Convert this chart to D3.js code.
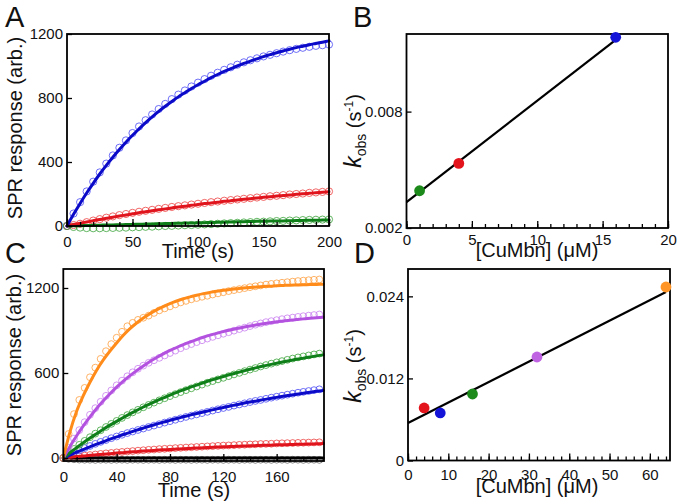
<!DOCTYPE html>
<html><head><meta charset="utf-8">
<script src="https://cdn.jsdelivr.net/npm/d3@7"></script>
<style>body{margin:0;background:#fff} svg{display:block} text{font-family:"Liberation Sans",Arial,sans-serif}</style>
</head><body><svg id="c" width="677" height="504"></svg>
<script>
// ---------- Panel A: SPR traces (time every 5 s) ----------
const aTime = d3.range(0, 201, 5);
const aBlueObs = [0,78,149,216,277,335,390,441,489,535,581,622,661,697,731,763,793,821,847,872,896,918,939,958,976,992,1008,1023,1036,1048,1060,1070,1080,1090,1099,1107,1114,1120,1126,1130,1134];
const aBlueFit = [0,73,141,206,267,325,379,430,478,524,567,607,646,682,716,748,778,807,833,859,883,905,927,947,966,983,1000,1016,1031,1045,1059,1071,1083,1094,1105,1115,1124,1133,1141,1149,1157];
const aRedObs = [0,6,14,24,34,43,52,60,68,75,82,89,95,101,107,113,119,124,129,134,139,144,149,153,158,162,166,170,174,178,182,186,189,193,197,200,203,207,210,213,216];
const aRedFit = [0,9,17,25,33,41,48,55,63,69,76,83,89,95,101,107,113,119,124,129,135,140,144,149,154,158,163,167,171,175,179,183,187,191,194,198,201,205,208,211,214];
const aGreenObs = [0,-6,-10,-13,-14,-14,-13,-12,-11,-10,-8,-7,-5,-4,-2,0,1,3,5,6,8,10,12,14,16,18,20,22,24,26,27,29,31,32,34,35,37,38,39,40,41];
const aGreenFit = [0,1,2,3,4,5,6,7,8,9,10,11,12,13,14,15,16,17,18,19,20,21,22,23,24,25,26,27,28,29,30,31,31.5,32,33,34,35,35.5,36,37,38];
const aXTicks = [0,50,100,150,200];
const aYTicks = [0,400,800,1200];

// ---------- Panel B: kobs vs [CuMbn] ----------
const bConc = [1,4,16];
const bKobs = [0.00392,0.00533,0.01183];
const bColors = ["#1b8a1b","#e3141c","#1414d8"];
const bFitX = [0,16];
const bFitY = [0.00333,0.0117];
const bXTicks = [0,5,10,15,20];
const bYTicks = [0.002,0.008];

// ---------- Panel C: SPR traces (obs every 4 s, fit every 5 s) ----------
const cObsTime = d3.range(0, 193, 4);
const cFitTime = d3.range(0, 196, 5);
const cOrangeObs = [0,170,310,410,495,570,638,700,754,804,849,891,930,954,975,990,1005,1024,1042,1056,1070,1084,1098,1109,1120,1129,1138,1145,1154,1162,1170,1178,1185,1192,1199,1206,1212,1218,1224,1229,1233,1237,1241,1245,1249,1252,1255,1258,1260];
const cOrangeFit = [0,185,330,440,535,620,692,755,812,866,913,953,988,1019,1046,1069,1090,1108,1124,1137,1149,1160,1169,1177,1184,1190,1195,1200,1204,1207,1211,1213,1216,1218,1220,1221,1222,1224,1225,1226];
const cPurpleObs = [0,72,137,197,253,305,352,397,439,477,513,546,577,605,630,652,672,690,707,724,741,758,775,790,804,818,831,843,855,866,877,888,899,910,920,931,941,950,959,966,973,980,986,991,996,1001,1005,1009,1013];
const cPurpleFit = [0,82,157,227,291,350,404,454,500,542,581,617,650,681,709,735,759,780,801,819,836,852,867,880,892,903,914,923,932,940,948,955,961,967,972,977,982,986,990,994];
const cGreenObs = [0,34,64,93,121,147,172,196,219,241,262,283,303,322,340,358,375,391,407,422,437,451,465,479,492,505,518,531,543,555,566,578,590,601,613,624,635,646,656,666,675,684,693,702,710,717,724,731,737];
const cGreenFit = [0,37,73,108,141,172,203,232,259,286,312,336,360,382,404,424,444,463,481,499,515,531,547,561,575,589,602,614,626,638,649,659,669,679,688,697,705,713,721,728];
const cBlueObs = [0,20,38,54,70,85,100,114,127,140,152,164,176,187,198,208,219,229,239,250,260,270,280,290,299,308,317,326,335,344,353,361,370,378,386,395,403,410,418,426,433,440,447,454,461,467,473,479,485];
const cBlueFit = [0,21,41,60,79,98,115,133,149,166,181,197,211,226,239,253,266,279,291,303,314,325,336,347,357,367,376,386,395,403,412,420,428,436,443,450,457,464,471,477];
const cRedObs = [0,4,9,13,17,21,25,29,33,36,40,43,46,49,52,55,58,60,63,65,67,70,72,74,76,78,80,82,84,86,88,89,91,93,94,96,97,99,100,101,103,104,105,106,107,108,109,110,111];
const cRedFit = [0,5,10,14,19,23,27,31,35,38,42,45,49,52,55,58,60,63,66,68,70,73,75,77,79,81,83,85,86,88,90,91,93,94,95,97,98,99,100,102];
const cBlackObs = [0,-6,-9,-11,-12,-12,-13,-12,-12,-13,-12,-12,-13,-12,-12,-13,-12,-12,-13,-12,-12,-13,-12,-12,-13,-12,-12,-13,-12,-12,-13,-12,-12,-13,-12,-12,-13,-12,-12,-13,-12,-12,-13,-12,-12,-13,-12,-12,-13];
const cBlackFitTime = [0,195];
const cBlackFit = [0,0];
const cXTicks = [0,40,80,120,160];
const cYTicks = [0,600,1200];

// ---------- Panel D: kobs vs [CuMbn] ----------
const dConc = [4,8,16,32,64];
const dKobs = [0.00768,0.00695,0.00972,0.01513,0.02537];
const dColors = ["#e3141c","#1414d8","#1b8a1b","#c063e3","#ff9526"];
const dFitX = [0,64];
const dFitY = [0.00548,0.02464];
const dXTicks = [0,10,20,30,40,50,60];
const dYTicks = [0,0.012,0.024];

const svg = d3.select("#c");

function frame(x, y) {
  svg.append("rect")
    .attr("x", x.range()[0]).attr("y", y.range()[1])
    .attr("width", x.range()[1] - x.range()[0])
    .attr("height", y.range()[0] - y.range()[1])
    .attr("fill", "none").attr("stroke", "#000").attr("stroke-width", 1.8);
}
function styleAxis(g) {
  g.select(".domain").remove();
  g.selectAll("line").attr("stroke", "#000").attr("stroke-width", 1.3);
  g.selectAll("text").attr("font-size", 15).attr("fill", "#111")
    .attr("font-family", '"Liberation Sans",Arial,sans-serif');
  g.attr("font-size", null).attr("font-family", null);
}
function axes(x, y, o) {
  const yb = y.range()[0], xl = x.range()[0];
  svg.append("g").attr("transform", `translate(0,${yb})`)
    .call(d3.axisBottom(x).tickValues(o.xMinor).tickSize(-4).tickFormat(""))
    .call(styleAxis);
  svg.append("g").attr("transform", `translate(0,${yb})`)
    .call(d3.axisBottom(x).tickValues(o.xMajor).tickSize(-7).tickPadding(o.xPad).tickFormat(o.xFmt || d3.format("d")))
    .call(styleAxis);
  svg.append("g").attr("transform", `translate(${xl},0)`)
    .call(d3.axisLeft(y).tickValues(o.yMajor).tickSize(-5).tickPadding(4).tickFormat(o.yFmt || d3.format("d")))
    .call(styleAxis);
}
function obs(x, y, t, vals, color, r) {
  svg.append("g").selectAll("circle").data(vals).join("circle")
    .attr("cx", (d, i) => x(t[i])).attr("cy", d => y(d)).attr("r", r)
    .attr("fill", "none").attr("stroke", color).attr("stroke-width", 0.8);
}
function fit(x, y, t, vals, color, w) {
  svg.append("path").datum(vals)
    .attr("d", d3.line().x((d, i) => x(t[i])).y(d => y(d)).curve(d3.curveMonotoneX))
    .attr("fill", "none").attr("stroke", color).attr("stroke-width", w)
    .attr("stroke-linecap", "round");
}
function label(txt, x, y, size, opts = {}) {
  const t = svg.append("text").attr("x", x).attr("y", y).attr("font-size", size)
    .attr("fill", "#111").attr("text-anchor", opts.anchor || "middle").text(txt);
  if (opts.rotate) t.attr("transform", `rotate(-90,${x},${y})`);
  return t;
}
function kLabel(cx, cy) {
  const t = svg.append("text").attr("transform", `translate(${cx},${cy}) rotate(-90)`)
    .attr("text-anchor", "middle").attr("font-size", 20).attr("fill", "#111");
  t.append("tspan").attr("font-style", "italic").attr("font-size", 23).text("k");
  t.append("tspan").attr("font-size", 14).attr("dy", 5).text("obs");
  t.append("tspan").attr("dy", -5).text(" (s");
  t.append("tspan").attr("font-size", 12).attr("dy", -8).text("-1");
  t.append("tspan").attr("dy", 8).text(")");
}
const kFmt = d => d === 0 ? "0" : d3.format(".3f")(d);

// ===== Panel A =====
{
  const x = d3.scaleLinear().domain([0, 200]).range([67, 329]);
  const y = d3.scaleLinear().domain([0, 1200]).range([226, 34]);
  obs(x, y, aTime, aBlueObs, "#4a4af5", 3.6);
  obs(x, y, aTime, aRedObs, "#ee4040", 3.6);
  obs(x, y, aTime, aGreenObs, "#3aa33a", 3.6);
  fit(x, y, aTime, aGreenFit, "#0f7f1a", 3);
  fit(x, y, aTime, aRedFit, "#e0141c", 3);
  fit(x, y, aTime, aBlueFit, "#0a0ac8", 3);
  axes(x, y, {xMinor: d3.range(0, 201, 10), xMajor: aXTicks, xPad: 10, yMajor: aYTicks});
  frame(x, y);
  label("Time (s)", 198, 258, 20);
  label("SPR response (arb.)", 22, 128, 20, {rotate: true});
  label("A", 5, 27, 29, {anchor: "start"});
}
// ===== Panel B =====
{
  const x = d3.scaleLinear().domain([0, 20]).range([406.5, 668]);
  const y = d3.scaleLinear().domain([0.002, 0.012]).range([228, 34]);
  axes(x, y, {xMinor: d3.range(0, 21, 1), xMajor: bXTicks, xPad: 6.5, yMajor: bYTicks, yFmt: kFmt});
  frame(x, y);
  svg.append("path").datum(bFitX.map((v, i) => [v, bFitY[i]]))
    .attr("d", d3.line().x(d => x(d[0])).y(d => y(d[1])))
    .attr("stroke", "#000").attr("stroke-width", 2.2).attr("fill", "none");
  svg.append("g").selectAll("circle").data(bConc).join("circle")
    .attr("cx", d => x(d)).attr("cy", (d, i) => y(bKobs[i])).attr("r", 5.4)
    .attr("fill", (d, i) => bColors[i]);
  label("[CuMbn] (\u03bcM)", 537, 257, 20);
  kLabel(361, 131);
  label("B", 353, 27, 29, {anchor: "start"});
}
// ===== Panel C =====
{
  const x = d3.scaleLinear().domain([0, 195.5]).range([63.3, 324]);
  const y = d3.scaleLinear().domain([-21, 1334]).range([461, 269]);
  obs(x, y, cObsTime, cBlackObs, "#666", 3.4);
  obs(x, y, cObsTime, cRedObs, "#ee4040", 3.4);
  obs(x, y, cObsTime, cBlueObs, "#4a4af5", 3.4);
  obs(x, y, cObsTime, cGreenObs, "#3aa33a", 3.4);
  obs(x, y, cObsTime, cPurpleObs, "#c97ff0", 3.4);
  obs(x, y, cObsTime, cOrangeObs, "#ffa040", 3.4);
  fit(x, y, cBlackFitTime, cBlackFit, "#000", 3);
  fit(x, y, cFitTime, cRedFit, "#e0141c", 3);
  fit(x, y, cFitTime, cBlueFit, "#0a0ac8", 3);
  fit(x, y, cFitTime, cGreenFit, "#0f7f1a", 3);
  fit(x, y, cFitTime, cPurpleFit, "#b452e0", 3);
  fit(x, y, cFitTime, cOrangeFit, "#ff8c1a", 3);
  axes(x, y, {xMinor: d3.range(0, 195, 10), xMajor: cXTicks, xPad: 10, yMajor: cYTicks});
  frame(x, y);
  label("Time (s)", 194, 497, 20);
  label("SPR response (arb.)", 21, 365, 20, {rotate: true});
  label("C", 5, 263, 29, {anchor: "start"});
}
// ===== Panel D =====
{
  const x = d3.scaleLinear().domain([0, 65]).range([408, 670]);
  const y = d3.scaleLinear().domain([0, 0.028]).range([460.5, 269]);
  axes(x, y, {xMinor: d3.range(0, 65, 2), xMajor: dXTicks, xPad: 9, yMajor: dYTicks, yFmt: kFmt});
  frame(x, y);
  svg.append("path").datum(dFitX.map((v, i) => [v, dFitY[i]]))
    .attr("d", d3.line().x(d => x(d[0])).y(d => y(d[1])))
    .attr("stroke", "#000").attr("stroke-width", 2.2).attr("fill", "none");
  svg.append("g").selectAll("circle").data(dConc).join("circle")
    .attr("cx", d => x(d)).attr("cy", (d, i) => y(dKobs[i])).attr("r", 5.4)
    .attr("fill", (d, i) => dColors[i]);
  label("[CuMbn] (\u03bcM)", 537, 493, 20);
  kLabel(361, 366);
  label("D", 354, 263, 29, {anchor: "start"});
}
</script>
</body></html>
